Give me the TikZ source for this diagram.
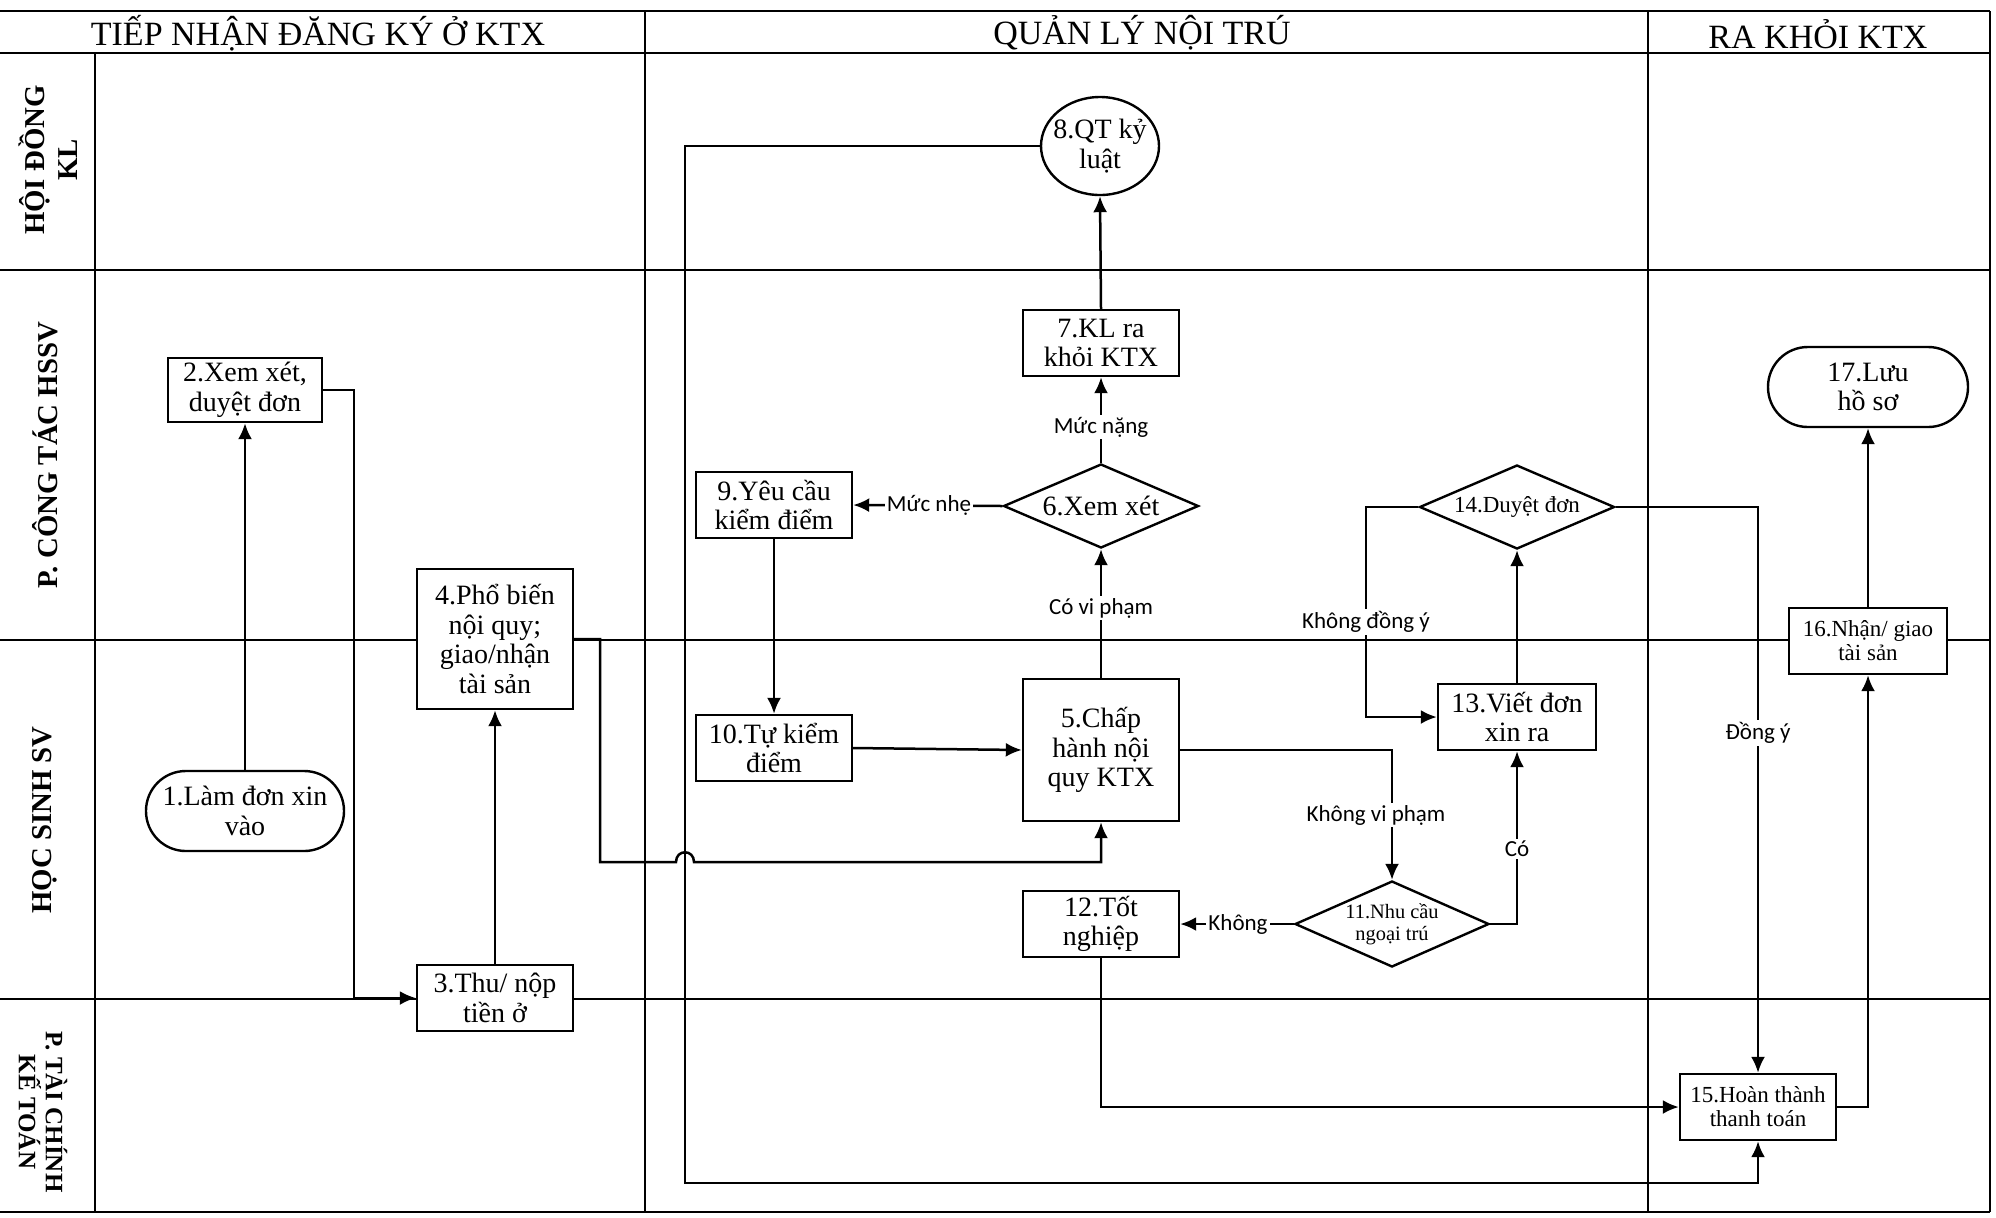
\documentclass[tikz,border=0pt]{standalone}
\usepackage{fontspec}
\setmainfont{Liberation Serif}
\newfontfamily\lblfont{Carlito}
\usetikzlibrary{arrows.meta,shapes.geometric,calc}
\begin{document}
\begin{tikzpicture}[x=0.5pt,y=-0.5pt,
  gridline/.style={line width=1.4pt},
  nfont/.style={font=\fontsize{14}{14.8}\selectfont},
  sfont/.style={font=\fontsize{11.5}{12}\selectfont},
  dfont/.style={font=\fontsize{10.2}{11.2}\selectfont},
  box/.style={draw,line width=1.2pt,fill=white,rectangle,align=center,inner sep=1pt,
              minimum width=78pt,minimum height=33pt,nfont},
  stadium/.style={box,rounded corners=19.9pt},
  diam/.style={draw,line width=1.2pt,fill=white,diamond,inner sep=0pt},
  oval/.style={draw,line width=1.2pt,fill=white,ellipse,inner sep=0pt},
  inner/.style={align=center,inner sep=0pt},
  conn/.style={line width=1.25pt,-{Latex[length=8pt,width=7pt]}},
  elabel/.style={fill=white,inner sep=1pt,font=\lblfont\fontsize{11.5}{12}\selectfont},
  lanelbl/.style={align=center,inner sep=0pt,font=\bfseries\fontsize{14.4}{16.5}\selectfont},
  headlbl/.style={inner sep=0pt,font=\fontsize{17}{18}\selectfont}
]
\useasboundingbox (0,0) rectangle (1996,1217);
\fill[white] (0,0) rectangle (1996,1217);

% swimlane grid
\draw[gridline] (0,11) -- (1990,11);
\draw[gridline] (0,53) -- (1990,53);
\draw[gridline] (0,270) -- (1990,270);
\draw[gridline] (0,640) -- (1990,640);
\draw[gridline] (0,999) -- (1990,999);
\draw[gridline] (0,1212) -- (1990,1212);
\draw[gridline] (95,53) -- (95,1212);
\draw[gridline] (645,11) -- (645,1212);
\draw[gridline] (1648,11) -- (1648,1212);
\draw[gridline] (1990,11) -- (1990,1212);

% headers
\node[headlbl] (h1) at (318,33) {TIẾP NHẬN ĐĂNG KÝ Ở KTX};
\node[headlbl] (h2) at (1142,33) {QUẢN LÝ NỘI TRÚ};
\node[headlbl] (h3) at (1818,34) {RA KHỎI KTX};

% lane labels
\node[lanelbl,rotate=90] (l1) at (48,160) {HỘI ĐỒNG\\KL};
\node[lanelbl,rotate=90] (l2) at (45,455) {P. CÔNG TÁC HSSV};
\node[lanelbl,rotate=90] (l3) at (45,820) {HỌC SINH SV};
\node[lanelbl,rotate=-90,font=\bfseries\fontsize{12.5}{13.5}\selectfont] (l4) at (43,1112) {P. TÀI CHÍNH\\KẾ TOÁN};

% process nodes
\node[stadium,minimum width=99pt,minimum height=40pt] (n1) at (245,811) {1.Làm đơn xin\\vào};
\node[box,minimum width=77pt,minimum height=32pt] (n2) at (245,390) {2.Xem xét,\\duyệt đơn};
\node[box] (n3) at (495,998) {3.Thu/ nộp\\tiền ở};
\node[box,minimum height=70pt] (n4) at (495,639) {4.Phổ biến\\nội quy;\\giao/nhận\\tài sản};
\node[box,minimum height=71pt] (n5) at (1101,750) {5.Chấp\\hành nội\\quy KTX};
\node[diam,minimum width=97.5pt,minimum height=42pt,
      label={[inner,nfont]center:6.Xem xét}] (n6) at (1101,506) {};
\node[box] (n7) at (1101,343) {7.KL ra\\khỏi KTX};
\node[oval,minimum width=59pt,minimum height=49pt,
      label={[inner,nfont]center:8.QT kỷ\\luật}] (n8) at (1100,146) {};
\node[box] (n9) at (774,505) {9.Yêu cầu\\kiểm điểm};
\node[box] (n10) at (774,748) {10.Tự kiểm\\điểm};
\node[diam,minimum width=97pt,minimum height=43pt,
      label={[inner,dfont]center:11.Nhu cầu\\ngoại trú}] (n11) at (1392,924) {};
\node[box] (n12) at (1101,924) {12.Tốt\\nghiệp};
\node[box,minimum width=79pt] (n13) at (1517,717) {13.Viết đơn\\xin ra};
\node[diam,minimum width=97.5pt,minimum height=42pt,
      label={[inner,sfont]center:14.Duyệt đơn}] (n14) at (1517,507) {};
\node[box,sfont] (n15) at (1758,1107) {15.Hoàn thành\\thanh toán};
\node[box,sfont,minimum width=79pt] (n16) at (1868,641) {16.Nhận/ giao\\tài sản};
\node[stadium,minimum width=100pt,minimum height=40pt] (n17) at (1868,387) {17.Lưu\\hồ sơ};

% connectors
\draw[conn] (n1.north) -- (n2.south);
\draw[conn] (n2.east) -- (354,390) |- (n3.west);
\draw[conn] (n3.north) -- (n4.south);
\draw[conn] (n4.east) -- (600,639) -- (600,862) -- (676,862)
   .. controls (676,849) and (694,849) .. (694,862) -| (n5.south);
\draw[conn] (n5.north) -- (n6.south);
\draw[conn] (n6.north) -- (n7.south);
\draw[conn] (n7.north) -- (n8.south);
\draw[conn] (n6.west) -- (n9.east);
\draw[conn] (n9.south) -- (n10.north);
\draw[conn] (n10.east) -- (n5.west);
\draw[conn] (n5.east) -| (n11.north);
\draw[conn] (n11.west) -- (n12.east);
\draw[conn] (n11.east) -| (n13.south);
\draw[conn] (n13.north) -- (n14.south);
\draw[conn] (n14.west) -- (1366,507) |- (n13.west);
\draw[conn] (n14.east) -| (n15.north);
\draw[conn] (n12.south) |- (n15.west);
\draw[conn] (n8.west) -| (685,1183) -| (n15.south);
\draw[conn] (n15.east) -| (n16.south);
\draw[conn] (n16.north) -- (n17.south);

% edge labels
\node[elabel] (e1) at (1101,608) {Có vi phạm};
\node[elabel] (e2) at (1101,427) {Mức nặng};
\node[elabel] (e3) at (929,505) {Mức nhẹ};
\node[elabel] (e4) at (1376,815) {Không vi phạm};
\node[elabel] (e5) at (1238,924) {Không};
\node[elabel] (e6) at (1517,849) {Có};
\node[elabel] (e7) at (1366,622) {Không đồng ý};
\node[elabel] (e8) at (1758,733) {Đồng ý};
\end{tikzpicture}
\end{document}
